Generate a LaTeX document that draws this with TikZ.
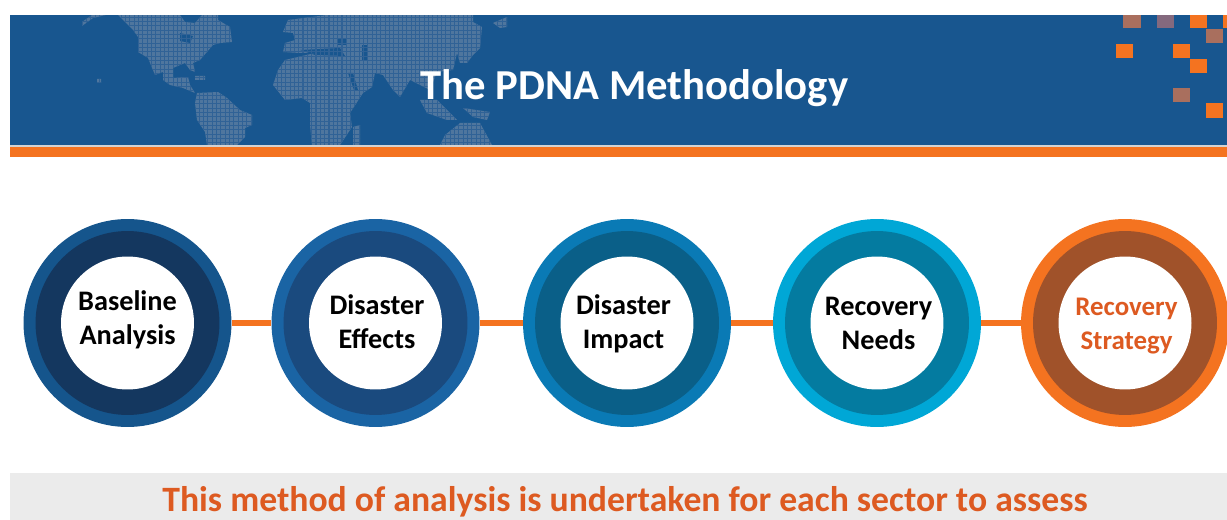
\documentclass[tikz,border=0pt]{standalone}
\usepackage{fontspec}
\setmainfont{Carlito}
\definecolor{bandblue}{HTML}{18568F}
\definecolor{landblue}{HTML}{4F769E}
\definecolor{gridblue}{HTML}{306296}
\definecolor{barorange}{HTML}{F47320}
\definecolor{dimorange}{HTML}{A96F5E}
\definecolor{dimviolet}{HTML}{84697E}
\definecolor{textorange}{HTML}{DD5A21}
\definecolor{paleband}{HTML}{EBEBEB}
\definecolor{ringa}{HTML}{15558C}
\definecolor{ringb}{HTML}{1A64A4}
\definecolor{ringc}{HTML}{0A7AB5}
\definecolor{ringd}{HTML}{00A7D6}
\definecolor{rimga}{HTML}{14375F}
\definecolor{rimgb}{HTML}{1A4A7E}
\definecolor{rimgc}{HTML}{0A5F88}
\definecolor{rimgd}{HTML}{047BA0}
\definecolor{rimge}{HTML}{A0522A}
\tikzset{
  outerdisc/.style={draw=none,shape=circle,fill=#1,inner sep=0,minimum size=4.16cm},
  middisc/.style={draw=none,shape=circle,fill=#1,inner sep=0,minimum size=3.68cm},
  whitedisc/.style={draw=none,shape=circle,fill=white,inner sep=0,minimum size=2.66cm},
  steptext/.style={align=center,inner sep=0,font=\fontsize{16.1}{19.3}\selectfont\bfseries},
  link/.style={draw=barorange,line width=3.2pt},
  dot/.style={fill=barorange},
  dimdot/.style={fill=#1}
}
\begin{document}
\begin{tikzpicture}
        [x=0.02cm,y=-0.02cm]

        \useasboundingbox (0,0) rectangle (1227,520);
        \clip (0,0) rectangle (1227,520);

        % header band
        \fill[bandblue] (10,15) rectangle (1227,145);
        \fill[gray!35] (10,145) rectangle (1227,147.5);
        \fill[barorange] (10,147.5) rectangle (1227,157);

        % world map
        \begin{scope}
          \clip (118,15) -- (180,15) -- (185,22) -- (195,23) -- (202,15) -- (218,15) -- (218,20) -- (230,27) -- (232,42) -- (220,43) -- (213,45) -- (200,60) -- (193,63) -- (195,72) -- (190,70) -- (185,63) -- (173,68) -- (173,78) -- (188,77) -- (190,85) -- (195,93) -- (183,88) -- (170,85) -- (163,80) -- (163,72) -- (155,75) -- (148,58) -- (138,52) -- (138,37) -- (133,30) -- (125,22) -- cycle
            (197,93) -- (218,92) -- (227,98) -- (240,110) -- (252,115) -- (252,125) -- (245,128) -- (245,137) -- (237,145) -- (207,145) -- (205,132) -- (197,120) -- (195,103) -- cycle
            (195,76) -- (205,76) -- (205,80) -- (195,80) -- cycle
            (97,79) -- (101,79) -- (101,83) -- (97,83) -- cycle
            (82,26) -- (93,18) -- (106,15) -- (92,15) -- (82,22) -- cycle
            (283,32) -- (288,20) -- (327,15) -- (473,15) -- (473,22) -- (482,27) -- (480,48) -- (473,55) -- (467,63) -- (460,63) -- (457,53) -- (453,70) -- (437,72) -- (430,90) -- (410,80) -- (400,97) -- (393,90) -- (383,75) -- (375,73) -- (372,87) -- (363,93) -- (350,113) -- (352,127) -- (340,145) -- (312,145) -- (310,125) -- (310,103) -- (302,98) -- (285,100) -- (273,85) -- (278,70) -- (285,60) -- (315,53) -- (300,53) -- (283,52) -- (285,43) -- (295,40) -- (293,33) -- cycle
            (353,127) -- (360,125) -- (360,145) -- (353,145) -- cycle
            (420,100) -- (437,100) -- (450,113) -- (457,120) -- (447,120) -- (427,113) -- cycle
            (463,108) -- (490,112) -- (487,120) -- (473,117) -- cycle
            (440,145) -- (445,135) -- (460,123) -- (480,123) -- (492,145) -- cycle
            (493,23) -- (507,17) -- (507,27) -- (500,28) -- cycle;
          \fill[landblue] (60,15) rectangle (520,145);
          \fill[bandblue] (180,33) -- (193,36) -- (190,43) -- (180,41) -- cycle;
          \fill[bandblue] (300,50) -- (340,48) -- (345,56) -- (315,55) -- cycle;
          \fill[bandblue] (337,38) rectangle (347,45);
          \fill[bandblue] (362,45) rectangle (367,60);
          \fill[bandblue] (348,73) -- (353,73) -- (358,90) -- (354,90) -- cycle;
          \draw[gridblue,line width=0.6pt,step=0.0866cm] (60,15) grid (520,145);
        \end{scope}

        % squares top right
        \fill[dimdot=dimorange] (1123,15) rectangle (1141,28);
        \fill[dimdot=dimviolet] (1157,15) rectangle (1174,28);
        \fill[dot] (1190,15) rectangle (1207,28);
        \fill[dot] (1223,15) rectangle (1227,28);
        \fill[dimdot=dimorange] (1206,29) rectangle (1223,43);
        \fill[dot] (1116,44) rectangle (1133,58);
        \fill[dot] (1173,44) rectangle (1190,58);
        \fill[dot] (1190,59) rectangle (1207,73);
        \fill[dimdot=dimorange] (1173,88) rectangle (1190,102);
        \fill[dot] (1206,103) rectangle (1223,118);

        \node[text=white,inner sep=0,font=\fontsize{24.3}{29}\selectfont\bfseries] (title) at (634.5,88) {The PDNA Methodology};

        % steps
        \node[outerdisc=ringa] (o1) at (127.5,323) {};
        \node[outerdisc=ringb] (o2) at (375.5,323) {};
        \node[outerdisc=ringc] (o3) at (627,323) {};
        \node[outerdisc=ringd] (o4) at (877,323) {};
        \node[outerdisc=barorange] (o5) at (1125,323) {};

        \draw[link] (o1) -- (o2);
        \draw[link] (o2) -- (o3);
        \draw[link] (o3) -- (o4);
        \draw[link] (o4) -- (o5);

        \node[middisc=rimga] (m1) at (o1) {};
        \node[middisc=rimgb] (m2) at (o2) {};
        \node[middisc=rimgc] (m3) at (o3) {};
        \node[middisc=rimgd] (m4) at (o4) {};
        \node[middisc=rimge] (m5) at (o5) {};

        \node[whitedisc] (w1) at (o1) {};
        \node[whitedisc] (w2) at (o2) {};
        \node[whitedisc] (w3) at (o3) {};
        \node[whitedisc] (w4) at (o4) {};
        \node[whitedisc] (w5) at (o5) {};

        \node[steptext] (s1) at (127.5,320) {Baseline\\Analysis};
        \node[steptext] (s2) at (377,322) {Disaster\\Effects};
        \node[steptext] (s3) at (623.5,324) {Disaster\\Impact};
        \node[steptext] (s4) at (878.5,323.5) {Recovery\\Needs};
        \node[steptext,text=textorange,font=\fontsize{15.3}{19.3}\selectfont\bfseries] (s5) at (1126.5,326.5) {Recovery\\Strategy};

        % bottom band
        \fill[paleband] (10,473) rectangle (1227,520);
        \node[text=textorange,inner sep=0,font=\fontsize{20.3}{24}\selectfont\bfseries] (note) at (625,502) {This method of analysis is undertaken for each sector to assess};

      \end{tikzpicture}
\end{document}
